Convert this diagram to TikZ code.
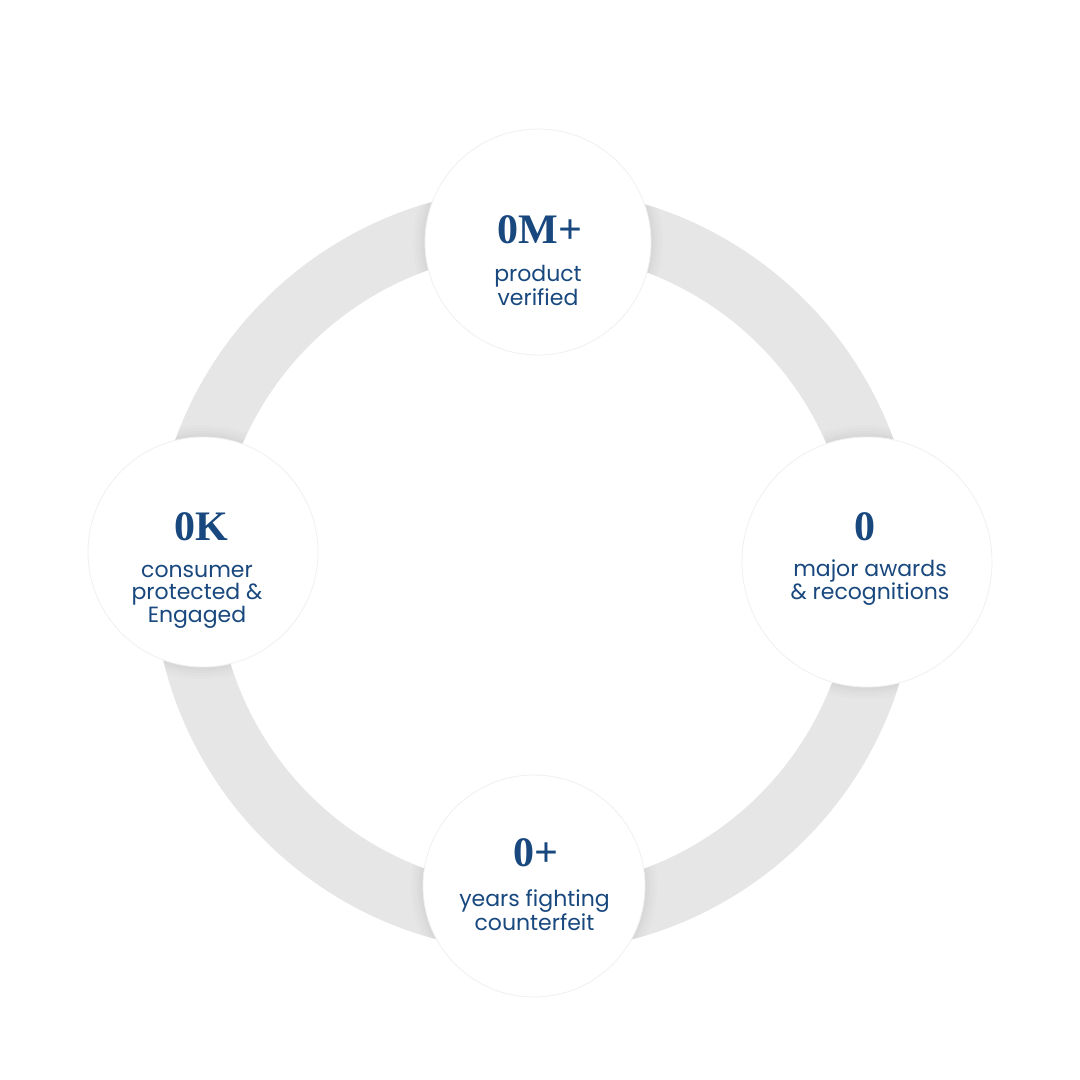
\documentclass[tikz,border=0pt]{standalone}
\usepackage{fontspec}
\setmainfont{Poppins}
\newfontfamily\numfont{Liberation Serif}
\usetikzlibrary{positioning}
\definecolor{statblue}{RGB}{24,72,126}
\definecolor{ringgray}{RGB}{230,230,230}

\begin{document}
\begin{tikzpicture}[x=1pt, y=-1pt,
    statcircle/.style={circle, fill=white, draw=black!6, line width=0.8pt, inner sep=0pt},
    numtext/.style={font=\numfont\bfseries\fontsize{42}{42}\selectfont, text=statblue, anchor=base, inner sep=0pt},
    labeltext/.style={font=\fontsize{22}{22.5}\selectfont, text=statblue, align=center, anchor=base, inner sep=0pt}]

    % Page
    \fill[white] (0,0) rectangle (1080,1080);
    \useasboundingbox (0,0) rectangle (1080,1080);

    % Ring
    \coordinate (C) at (534.5,570);
    \fill[ringgray, even odd rule] (C) circle[radius=382] (C) circle[radius=318];

    % Soft shadow of the circles on the ring
    \begin{scope}[even odd rule]
        \clip (C) circle[radius=382] (C) circle[radius=318];
        \foreach \cx/\cy/\r in {538/242/113, 203/552/115, 867/562/125, 534/886/111} {
            \foreach \d in {12,9,6,4,2}
                \fill[black, opacity=0.012] (\cx,\cy) circle[radius=\r+\d];
        }
    \end{scope}

    % Circles
    \node[statcircle, minimum size=226pt] (top) at (538,242) {};
    \node[statcircle, minimum size=230pt] (left) at (203,552) {};
    \node[statcircle, minimum size=250pt] (right) at (867,562) {};
    \node[statcircle, minimum size=222pt] (bottom) at (534,886) {};

    % Numbers
    \node[numtext] (topnum) at (540,243) {0M+};
    \node[numtext] (leftnum) at (201,540) {0K};
    \node[numtext] (rightnum) at (864.5,540) {0};
    \node[numtext] (bottomnum) at (536,866) {0+};

    % Labels (base = last line)
    \node[labeltext] (toplabel) at (538,305) {product\\verified};
    \node[labeltext] (leftlabel) at (197,622) {consumer\\protected \&\\Engaged};
    \node[labeltext] (rightlabel) at (870,599) {major awards\\\& recognitions};
    \node[labeltext] (bottomlabel) at (534.5,930) {years fighting\\counterfeit};
\end{tikzpicture}
\end{document}
